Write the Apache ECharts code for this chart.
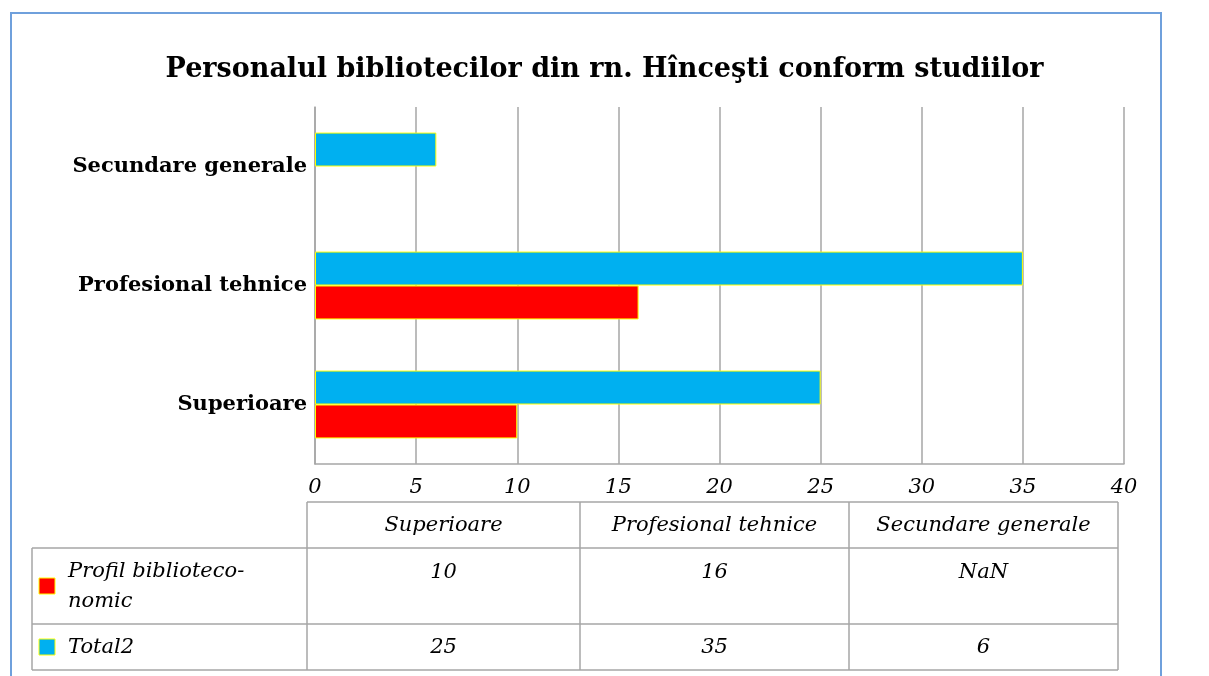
<!DOCTYPE html>
<html>
<head>
<meta charset="utf-8">
<script src="https://cdn.jsdelivr.net/npm/echarts@6/dist/echarts.min.js"></script>
<style>
  html, body { margin: 0; padding: 0; background: #fff; }
  #main { width: 1209px; height: 676px; }
</style>
</head>
<body>
<div id="main"></div>
<script>
// date
var titlu = 'Personalul bibliotecilor din rn. Hînceşti conform studiilor';
var categorii = ['Superioare', 'Profesional tehnice', 'Secundare generale'];
var numeSerii = ['Profil biblioteco-\nnomic', 'Total2'];
var profil = [10, 16, null];
var total2 = [25, 35, 6];
var culori = ['#ff0000', '#00b0f0'];

var serif = 'DejaVu Serif';
var gri = '#a6a6a6';

var myChart = echarts.init(document.getElementById('main'));

// tabelul de date de sub grafic
function tabel() {
    var el = [];
    var cx = [307, 580, 849, 1118];
    var rows = [502, 548, 624, 670];
    function linie(x1, y1, x2, y2) {
        el.push({ type: 'line', shape: { x1: x1, y1: y1, x2: x2, y2: y2 },
            style: { stroke: gri, lineWidth: 1.5 }, silent: true });
    }
    function text(t, x, y, align) {
        el.push({ type: 'text', x: x, y: y, silent: true,
            style: { text: t, fill: '#000', fontFamily: serif, fontStyle: 'italic',
                fontSize: 21, textAlign: align || 'center', textVerticalAlign: 'middle', lineHeight: 30 } });
    }
    linie(cx[0], rows[0], cx[3], rows[0]);
    linie(32, rows[1], cx[3], rows[1]);
    linie(32, rows[2], cx[3], rows[2]);
    linie(32, rows[3], cx[3], rows[3]);
    linie(32, rows[1], 32, rows[3]);
    cx.forEach(function (x) { linie(x, rows[0], x, rows[3]); });

    var valori = [profil, total2];
    var rowY = [573, 648];
    categorii.forEach(function (c, i) {
        var mid = (cx[i] + cx[i + 1]) / 2;
        text(c, mid, 526);
        valori.forEach(function (v, s) {
            text(v[i] == null ? 'NaN' : String(v[i]), mid, rowY[s]);
        });
    });
    // legenda
    var keyY = [586, 647];
    var labelY = [587, 648];
    numeSerii.forEach(function (n, s) {
        el.push({ type: 'rect', shape: { x: 39, y: keyY[s] - 8, width: 16, height: 16 },
            style: { fill: culori[s], stroke: '#ffff00', lineWidth: 1 }, silent: true });
        text(n, 68, labelY[s], 'left');
    });
    // chenar
    el.push({ type: 'rect', shape: { x: 11, y: 13, width: 1150, height: 720 },
        style: { fill: null, stroke: '#6fa0dc', lineWidth: 2 }, silent: true });
    return el;
}

var option = {
    backgroundColor: '#fff',
    animation: false,
    title: {
        text: titlu,
        left: 'center',
        top: 56,
        padding: 0,
        textStyle: { fontFamily: serif, fontWeight: 'bold', fontSize: 27, color: '#000' }
    },
    grid: { left: 315, right: 85, top: 107, bottom: 212, containLabel: false },
    xAxis: {
        type: 'value',
        min: 0,
        max: 40,
        interval: 5,
        axisLine: { show: true, lineStyle: { color: gri, width: 1.5 } },
        axisTick: { show: false },
        splitLine: { lineStyle: { color: gri, width: 1.5 } },
        axisLabel: { color: '#000', fontFamily: serif, fontStyle: 'italic', fontSize: 21, margin: 13 }
    },
    yAxis: {
        type: 'category',
        data: categorii,
        axisLine: { show: true, lineStyle: { color: gri, width: 1.5 } },
        axisTick: { show: false },
        axisLabel: { color: '#000', fontFamily: serif, fontWeight: 'bold', fontSize: 21, margin: 8 }
    },
    // Total2 primul ca sa stea deasupra in fiecare categorie
    series: [{
        name: numeSerii[1],
        type: 'bar',
        data: total2,
        barGap: '0%',
        barCategoryGap: '43%',
        itemStyle: { color: culori[1], borderColor: '#ffff00', borderWidth: 1 }
    }, {
        name: numeSerii[0],
        type: 'bar',
        data: profil,
        barGap: '0%',
        barCategoryGap: '43%',
        itemStyle: { color: culori[0], borderColor: '#ffff00', borderWidth: 1 }
    }],
    graphic: tabel()
};
myChart.setOption(option);
</script>
</body>
</html>
